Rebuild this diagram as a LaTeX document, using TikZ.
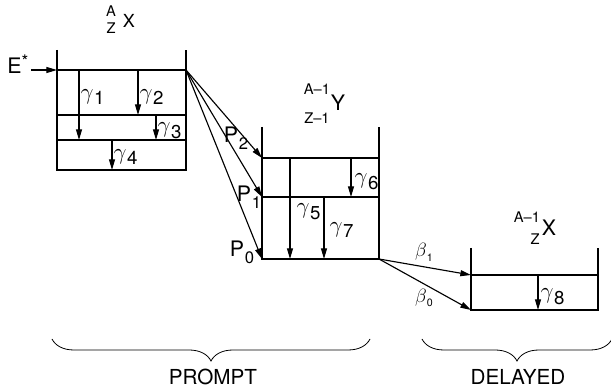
\documentclass[tikz,border=0pt]{standalone}
\usepackage{fontspec}
\setmainfont{TeX Gyre Heros}
\usetikzlibrary{arrows.meta, decorations.pathreplacing}

% level labels: gamma with a lowered sans digit
\newcommand{\glab}[1]{$\gamma$\kern0.5pt\raisebox{-0.45ex}{\fontsize{14}{14}\selectfont #1}}
\newcommand{\plab}[1]{P\kern0.5pt\raisebox{-0.6ex}{\fontsize{12.5}{12.5}\selectfont #1}}
\newcommand{\blab}[1]{$\beta$\raisebox{-0.5ex}{\fontsize{8}{8}\selectfont #1}}

\begin{document}
\begin{tikzpicture}[x=0.75pt, y=-0.75pt, line width=0.85pt,
    >={Triangle[length=8pt, width=4.5pt]},
    big/.style={font=\fontsize{16}{18}\selectfont, inner sep=0pt},
    mid/.style={font=\fontsize{13.5}{15}\selectfont, inner sep=0pt},
    tiny/.style={font=\fontsize{11}{12}\selectfont, inner sep=0pt},
    gam/.style={font=\fontsize{18.5}{20}\selectfont, inner sep=0pt, anchor=west}]
    \useasboundingbox (0,0) rectangle (611,391);

    % parent X
    \coordinate (X3l) at (57,70);  \coordinate (X3r) at (186,70);
    \coordinate (X2l) at (57,115); \coordinate (X2r) at (186,115);
    \coordinate (X1l) at (57,140); \coordinate (X1r) at (186,140);
    \coordinate (X0l) at (57,170); \coordinate (X0r) at (186,170);
    \draw (57,50) -- (X0l) -- (X0r) -- (186,50);
    \draw (X3l) -- (X3r);
    \draw (X2l) -- (X2r);
    \draw (X1l) -- (X1r);

    \node[tiny] (xA) at (111,11) {A};
    \node[tiny] (xZ) at (111,28) {Z};
    \node[mid] (xX) at (129,21) {X};

    \node[big, anchor=base east] (Estar) at (29,74) {E\raisebox{0.55ex}{\fontsize{13}{13}\selectfont *}};
    \draw[->] (Estar.base east |- X3l) ++(2,0) -- (X3l);

    \draw[->] (79,70) -- (79,140);
    \draw[->] (138,70) -- (138,115);
    \draw[->] (156,115) -- (156,140);
    \draw[->] (112,140) -- (112,170);
    \node[gam] (g1) at (80,97) {\glab{1}};
    \node[gam] (g2) at (139,97) {\glab{2}};
    \node[gam] (g3) at (157,131) {\glab{3}};
    \node[gam] (g4) at (113,157) {\glab{4}};

    % daughter Y
    \coordinate (Y2l) at (262,158); \coordinate (Y2r) at (379,158);
    \coordinate (Y1l) at (262,197); \coordinate (Y1r) at (379,197);
    \coordinate (Y0l) at (262,259); \coordinate (Y0r) at (379,259);
    \draw (262,127) -- (Y0l) -- (Y0r) -- (379,127);
    \draw (Y2l) -- (Y2r);
    \draw (Y1l) -- (Y1r);

    \node[tiny] (yA) at (317,89) {A--1};
    \node[tiny] (yZ) at (317,118) {Z--1};
    \node[big] (yY) at (338,103) {Y};

    \draw[->] (X3r) -- (Y2l);
    \draw[->] (X3r) -- (Y1l);
    \draw[->] (X3r) -- (Y0l);
    \node[big] (p2) at (236,138) {\plab{2}};
    \node[big] (p1) at (249,197) {\plab{1}};
    \node[big] (p0) at (242,252) {\plab{0}};

    \draw[->] (290,158) -- (290,259);
    \draw[->] (351,158) -- (351,197);
    \draw[->] (324,197) -- (324,259);
    \node[gam] (g5) at (296,212) {\glab{5}};
    \node[gam] (g6) at (354,182) {\glab{6}};
    \node[gam] (g7) at (329,230) {\glab{7}};

    % delayed X
    \coordinate (Z1l) at (471,275); \coordinate (Z1r) at (598,275);
    \coordinate (Z0l) at (471,310); \coordinate (Z0r) at (598,310);
    \draw (471,248) -- (Z0l) -- (Z0r) -- (598,248);
    \draw (Z1l) -- (Z1r);

    \node[tiny] (zA) at (527,217) {A--1};
    \node[tiny] (zZ) at (535,239) {Z};
    \node[big] (zX) at (549,228) {X};

    \draw[->] (Y0r) -- (Z1l);
    \draw[->] (Y0r) -- (Z0l);
    \node[mid] (b1) at (424,252) {\blab{1}};
    \node[mid] (b0) at (424,298) {\blab{0}};

    \draw[->] (538,275) -- (538,310);
    \node[gam] (g8) at (540,297) {\glab{8}};

    % braces
    \draw[line width=0.6pt, decorate, decoration={brace, mirror, amplitude=16.5pt}]
        (52,339) -- (370,339);
    \draw[line width=0.6pt, decorate, decoration={brace, mirror, amplitude=16.5pt}]
        (422,339) -- (612,339);
    \node[big, font=\fontsize{15.5}{17}\selectfont] (prompt) at (213,377) {PROMPT};
    \node[big, font=\fontsize{15.5}{17}\selectfont] (delayed) at (518,377) {DELAYED};
\end{tikzpicture}
\end{document}
